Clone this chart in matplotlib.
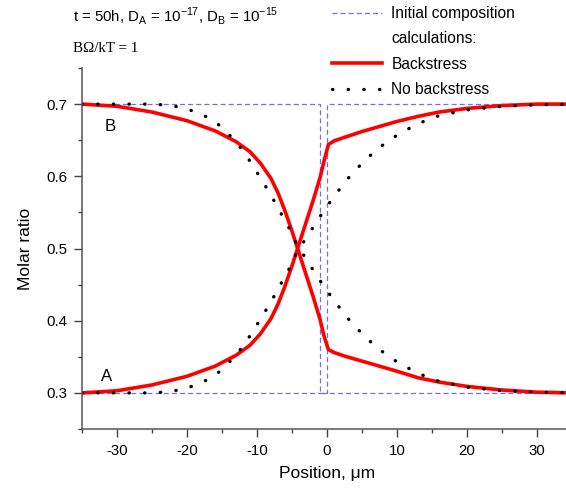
import numpy as np
import matplotlib
matplotlib.use("Agg")
import matplotlib.pyplot as plt
from matplotlib.lines import Line2D
from matplotlib.ticker import MultipleLocator

plt.rcParams["font.family"] = ["Liberation Sans", "DejaVu Sans"]
plt.rcParams["mathtext.fontset"] = "custom"
plt.rcParams["mathtext.rm"] = "Liberation Sans"
plt.rcParams["axes.unicode_minus"] = False

# initial composition (step profiles)
init_a_x = [-35, 0, 0, 35]
init_a_y = [0.3, 0.3, 0.7, 0.7]
init_b_x = [-35, -1, -1, 35]
init_b_y = [0.7, 0.7, 0.3, 0.3]

# with backstress
bs_x = [-35, -30, -25, -20, -16, -13, -11, -9.5, -8, -7, -6, -5, -4, -3, -2,
        -1, -0.4, 0.2, 1, 2.5, 5, 7.5, 10, 13, 16, 20, 25, 30, 35]
bs_a = [0.300, 0.303, 0.311, 0.323, 0.337, 0.352, 0.366, 0.382, 0.403, 0.423,
        0.448, 0.476, 0.506, 0.536, 0.566, 0.598, 0.622, 0.644, 0.649, 0.654,
        0.662, 0.669, 0.676, 0.683, 0.689, 0.694, 0.698, 0.700, 0.700]
bs_b = [0.700, 0.697, 0.689, 0.677, 0.663, 0.648, 0.634, 0.618, 0.597, 0.577,
        0.552, 0.524, 0.494, 0.464, 0.434, 0.402, 0.378, 0.360, 0.356, 0.351,
        0.344, 0.337, 0.330, 0.321, 0.315, 0.309, 0.304, 0.301, 0.300]

# without backstress
nb_x = [-35, -30, -26, -23, -20.6, -18.4, -16.1, -14.1, -12.2, -10.8, -9.4,
        -8, -7, -5.5, -4.2, -3, -1.7, -0.2, 1.4, 3, 5, 7.2, 10, 13, 16, 20,
        25, 30, 35]
nb_a = [0.300, 0.300, 0.300, 0.301, 0.305, 0.312, 0.323, 0.341, 0.362, 0.382,
        0.404, 0.426, 0.444, 0.470, 0.497, 0.514, 0.534, 0.556, 0.577, 0.597,
        0.618, 0.638, 0.657, 0.673, 0.684, 0.692, 0.697, 0.699, 0.700]
nb_b = [0.700, 0.700, 0.700, 0.699, 0.695, 0.688, 0.677, 0.659, 0.638, 0.618,
        0.596, 0.574, 0.556, 0.530, 0.503, 0.486, 0.466, 0.444, 0.423, 0.403,
        0.382, 0.362, 0.343, 0.327, 0.316, 0.308, 0.303, 0.301, 0.300]

BLUE = "#6f6ff0"
RED = "#ff0000"
DOTS = (0, (0.1, 4.6))
DASH = (0, (4, 2.5))

fig = plt.figure(figsize=(5.66, 4.93), dpi=100)
ax = fig.add_axes([82 / 566, 64 / 493, 490 / 566, 361 / 493])

for xs, ys in [(init_a_x, init_a_y), (init_b_x, init_b_y)]:
    ax.plot(xs, ys, color=BLUE, lw=0.9, ls=DASH)
for ys in (bs_a, bs_b):
    ax.plot(bs_x, ys, color=RED, lw=2.6, solid_joinstyle="round")
for ys in (nb_a, nb_b):
    ax.plot(nb_x, ys, color="black", lw=2.4, ls=DOTS, dash_capstyle="round")

ax.set_xlim(-35, 35)
ax.set_ylim(0.25, 0.75)
ax.xaxis.set_minor_locator(MultipleLocator(5))
ax.yaxis.set_minor_locator(MultipleLocator(0.05))
ax.set_xticks([-30, -20, -10, 0, 10, 20, 30])
ax.set_yticks([0.3, 0.4, 0.5, 0.6, 0.7])
ax.tick_params(which="major", length=5.5, width=1, color="#444444",
               labelsize=10.8, pad=5)
ax.tick_params(which="minor", length=3, width=1, color="#444444")
for s in ("top", "right"):
    ax.spines[s].set_visible(False)
for s in ("left", "bottom"):
    ax.spines[s].set_color("#555555")
    ax.spines[s].set_linewidth(1.1)

ax.set_xlabel("Position, \u03bcm", fontsize=12.5, labelpad=6)
ax.set_ylabel("Molar ratio", fontsize=12.5, labelpad=10)

ax.text(-31, 0.669, "B", fontsize=12, ha="center", va="center")
ax.text(-31.5, 0.323, "A", fontsize=12, ha="center", va="center")

fig.text(73 / 566, 1 - 16 / 493,
         r"t = 50h, D$_\mathregular{A}$ = 10$^\mathregular{-17}$, "
         r"D$_\mathregular{B}$ = 10$^\mathregular{-15}$",
         fontsize=10.8, va="center")
fig.text(73 / 566, 1 - 49 / 493, "B\u03a9/kT = 1", fontsize=10.8,
         va="center", family="Liberation Serif")

handles = [Line2D([], [], color=BLUE, lw=0.9, ls=DASH),
           Line2D([], [], color="none"),
           Line2D([], [], color=RED, lw=2.6),
           Line2D([], [], color="black", lw=2.4, ls=DOTS,
                  dash_capstyle="round")]
labels = ["Initial composition", "calculations:", "Backstress", "No backstress"]
fig.legend(handles, labels, loc="upper left",
           bbox_to_anchor=(326 / 566, 1.0), frameon=False, fontsize=11.2,
           handlelength=3.2, handletextpad=0.6, labelspacing=0.66,
           borderaxespad=0)

fig.savefig("out.png", dpi=100)
